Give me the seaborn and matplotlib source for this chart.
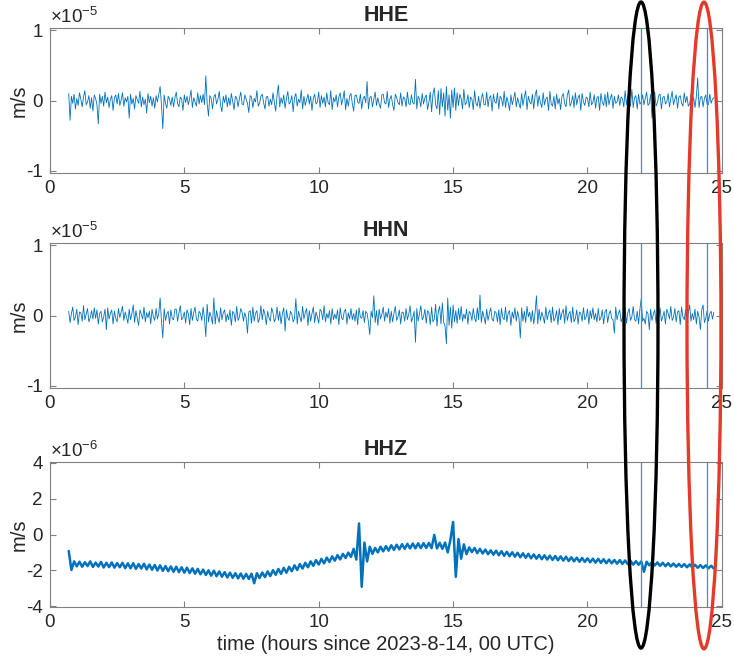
import numpy as np
import matplotlib
matplotlib.use('Agg')
import matplotlib.pyplot as plt
import seaborn as sns
from matplotlib.patches import Ellipse

# Horizontal channels, one sample every 0.05 h
# from 0.7 h to 24.7 h, in units of 1e-7 m/s.
hhe = [
    10, -28, 6, -4, 9, -12, 3, -7, 11, 2, -9, 5, 14, -6, -2, 7, -11, 4, -15, 8,
    3, -6, -33, 9, -4, 6, -8, 12, -3, 5, -10, 2, 7, -14, 4, 8, -5, 10, -7, 1,
    11, -8, 4, -2, 6, -25, 9, -5, 3, -12, 7, 1, -4, 13, -9, 5, -6, 2, -18, 10,
    -3, 6, -8, 4, -11, 7, -2, 9, 20, -6, -40, 8, -4, -11, 6, 2, -7, 5, -9, 4,
    12, -4, -9, 5, 2, -14, 8, -3, 6, -6, 3, 15, -10, 4, -2, -8, 11, -5, 7, -3,
    9, -6, 35, -4, -22, 7, 3, -12, 5, 9, -5, 2, 13, -7, -16, 6, -3, 8, -9, 4,
    -7, 10, -2, -13, 6, 4, -9, 3, 12, -5, -6, 8, 2, -4, -17, 7, 5, -10, 3, -2,
    14, -8, -4, 6, 9, -3, -12, 5, 6, -8, 2, -6, 11, -3, -15, 7, 22, -9, 4, -4,
    8, -11, 3, 13, -5, -2, 7, -16, 4, 10, -8, 2, -3, 15, -12, 6, -7, 1, 9, -5,
    6, -14, 3, 9, -5, -2, 12, -10, 7, -4, 5, -9, 11, -3, -6, 14, -13, 4, -2, 8,
    -9, 5, 11, -6, 2, 14, -13, 3, -8, 6, 10, -4, -15, 7, 8, -2, -4, 9, -12, 3,
    6, -3, 27, -12, 4, 6, -9, 2, 12, -7, 4, -5, -11, 8, 9, -3, -5, 13, -10, 2,
    7, -6, -14, 9, 4, -3, -6, 11, -8, 5, 3, -9, 12, -4, -6, 8, -3, -5, 30, -12,
    6, 2, -9, 10, -5, 4, 8, -13, -2, 12, -16, 9, 18, -6, -12, 14, -20, 17, -9, 11,
    -22, 20, -14, 8, -25, 15, -10, 18, -14, 11, -7, 9, 3, -12, 16, -6, -3, 8, -10, 5,
    2, -13, 14, -4, -8, 6, -11, 3, 10, -6, -6, 12, -9, 4, 7, -15, 9, -2, -4, 11,
    -12, 6, 3, -8, 13, -10, 5, -3, -14, 8, -6, 2, 12, -9, 4, -4, -11, 10, -7, 5,
    14, -13, 6, -2, -5, 9, -12, 7, 15, -8, 7, -3, -10, 11, -6, 2, 5, -14, 13, -5,
    -8, 6, -12, 9, -5, 3, -13, 6, 10, -4, -9, 8, 15, -8, -3, 7, -10, 11, -6, 4,
    8, -14, 10, -2, -7, 5, 3, -9, 12, -6, -3, 8, -11, 4, 6, -14, 10, -2, -7, 9,
    -9, 12, -6, 3, 9, -11, 6, -4, -2, 8, -7, 5, 3, -9, 14, -6, 7, -3, -8, 16,
    -10, 4, 7, -12, 9, -5, -2, 8, -6, 3, 12, -7, -4, 9, -25, 6, 12, -8, -3, 7,
    9, -12, 4, 6, -5, -2, 10, -9, 3, 13, -6, 2, 8, -11, 5, 7, -4, -8, 11, -3,
    6, -8, -5, 9, -3, 4, -10, 6, 32, -10, 4, 6, -9, 3, 8, -5, -6, 9, -4, 2,
    4,
]
hhn = [
    6, -10, 3, 12, -7, -2, 9, -13, 5, 4, -8, 14, -6, 2, 10, -9, -3, 7, -5, 11,
    -4, 8, -12, 3, 6, -9, -2, 9, -20, 11, -5, 3, 8, -12, 6, -4, -9, 10, -3, 5,
    13, -7, 5, -2, -11, 9, -6, 3, 15, -10, 7, -4, -14, 8, 2, -5, 12, -9, 4, -3,
    6, -12, 9, -2, -7, 10, -5, 3, 25, -8, -32, 10, -7, 2, 6, -12, 8, -4, -6, 9,
    9, -8, 4, 14, -6, -3, 5, -11, 8, 2, -13, 10, -7, 4, 12, -5, -8, 6, 3, -7,
    12, -4, -30, 16, -9, 5, -2, -12, 25, -12, 7, -3, -10, 11, -6, 4, 8, -9, 2, -6,
    8, -14, 6, 3, -9, 13, -7, -2, 10, 5, -8, 4, -3, -25, 5, 7, -11, 12, -8, 3,
    7, -10, -4, 14, -6, 9, 2, -13, 6, -3, -8, 11, 4, -9, -4, 12, -7, 6, -12, 3,
    11, -22, 8, -3, -7, 6, 2, -9, -4, 24, -12, 6, -2, -9, 13, -5, 4, 10, -14, 7,
    -8, 3, 12, -10, 5, -2, -11, 9, 6, -6, 14, -9, 3, -4, 7, -12, 10, -6, 2, -5,
    8, -13, 11, -3, -6, 6, 9, -12, 4, -5, 10, -6, 3, -8, 8, -13, 11, -2, -4, 7,
    -10, 6, 3, -9, -27, 6, -3, 28, -10, 7, -14, 9, -5, 2, 12, -8, 5, -3, 10, -11,
    6, -9, 3, 13, -7, -2, 8, -12, 5, 4, -8, 10, -6, 2, 14, -9, -3, 6, -38, 10,
    -8, 3, 14, -6, -2, 9, -11, 7, 4, -13, 12, -9, -5, 16, -15, 6, 13, -12, 18, -10,
    -15, -40, 25, -14, 12, -18, 15, -9, 7, -11, 10, -6, 13, -8, 2, -5, 9, -12, 6, 3,
    -7, 10, -4, -9, 11, -6, 29, -10, 6, -2, -12, 9, -7, 3, 11, -5, -8, 6, 4, -9,
    8, -13, 10, -3, -6, 12, -9, 4, 7, -14, 5, -4, 11, -8, 6, -3, -32, 11, -8, 6,
    -10, 13, -2, 5, -9, 7, -12, 4, 28, -12, 9, -7, 5, -2, -11, 12, -6, 3, 8, -10,
    12, -8, -3, 7, -13, 10, -6, 4, 9, -11, 14, -7, 2, 6, -10, 12, -9, -4, 8, -12,
    5, 3, -8, 11, -6, -2, 9, -12, 7, -4, 11, -6, 3, -9, 10, -7, -3, 8, -12, 5,
    9, -10, 2, 7, -4, -6, -25, 12, -6, 3, 8, -9, -3, 5, 11, -11, 4, 10, -7, -2,
    13, -6, -8, 6, -12, 9, 24, -8, -4, -12, 6, 3, -20, 9, -7, 2, 8, -11, 5, -3,
    11, -8, -2, 6, -12, 9, 3, -5, 13, -7, -3, 10, -9, 5, 7, -13, 12, -2, -6, 8,
    -10, 4, 15, -8, 3, -6, 9, -12, 6, -2, -20, 8, 15, -10, -4, 7, -8, 3, 6, -5,
    5,
]
# Vertical channel, one sample every 0.1 h, in units of 1e-8 m/s.
hhz = [
    -92, -198, -150, -178, -152, -180, -155, -176, -150, -181, -157, -179, -153, -184, -158, -182, -156, -185, -160, -183,
    -158, -188, -161, -189, -160, -192, -165, -190, -163, -195, -168, -197, -170, -201, -172, -203, -176, -205, -178, -208,
    -180, -210, -183, -213, -185, -215, -189, -219, -192, -222, -196, -226, -200, -230, -202, -233, -206, -236, -210, -240,
    -213, -242, -216, -245, -218, -247, -220, -248, -219, -272, -216, -243, -212, -238, -206, -232, -199, -225, -192, -220,
    -186, -213, -180, -205, -172, -198, -165, -190, -158, -183, -150, -175, -143, -168, -136, -161, -129, -153, -122, -146,
    -115, -139, -108, -131, -101, -125, -80, -140, 62, -292, -45, -150, -68, -108, -75, -100, -68, -94, -65, -90,
    -60, -86, -57, -83, -54, -80, -52, -78, -50, -77, -49, -76, -48, -75, -47, -76, -2, -78, -46, -80,
    -45, -100, -30, 70, -236, -25, -135, -55, -110, -72, -98, -75, -104, -80, -106, -84, -110, -88, -113, -90,
    -116, -93, -119, -96, -121, -99, -124, -102, -127, -105, -130, -108, -133, -111, -135, -114, -138, -116, -140, -118,
    -142, -120, -144, -122, -146, -124, -148, -127, -150, -129, -152, -131, -153, -133, -155, -135, -157, -136, -158, -138,
    -160, -140, -161, -142, -163, -143, -164, -145, -166, -147, -168, -149, -169, -150, -208, -152, -172, -154, -173, -156,
    -175, -158, -177, -160, -178, -162, -180, -164, -181, -165, -183, -167, -184, -169, -186, -171, -187, -172, -189, -174,
    -190,
]
hours_h = np.linspace(0.7, 24.7, len(hhe))
hours_z = np.linspace(0.7, 24.7, len(hhz))

# two glitches that run far off scale on every channel
glitch_hours = [22.0, 24.45]

channels = ['HHE', 'HHN', 'HHZ']
exponents = [-5, -5, -6]
limits = [1.03, 1.03, 4.05]
ticks = [[-1, 0, 1], [-1, 0, 1], [-4, -2, 0, 2, 4]]
traces = [np.array(hhe) / 100, np.array(hhn) / 100, np.array(hhz) / 100]
times = [hours_h, hours_h, hours_z]
widths = [0.6, 0.6, 1.8]

sns.set_theme(style='ticks')
plt.rcParams['font.family'] = ['Liberation Sans', 'DejaVu Sans']
plt.rcParams['mathtext.default'] = 'regular'
plt.rcParams['axes.unicode_minus'] = False
plt.rcParams['xtick.direction'] = 'in'
plt.rcParams['ytick.direction'] = 'in'

blue = '#0072BD'
gray = '#808080'
dark = '#262626'

fig = plt.figure(figsize=(7.34, 6.64), dpi=100)
tops = [0.9578, 0.634, 0.3042]
height = 0.2184

for i, name in enumerate(channels):
    ax = fig.add_axes([0.068, tops[i] - height, 0.9155, height])
    sns.lineplot(x=times[i], y=traces[i], ax=ax, color=blue, lw=widths[i],
                 estimator=None, sort=False)
    ax.vlines(glitch_hours, -10 * limits[i], 10 * limits[i], color='#3d8fd1',
              lw=0.9)

    ax.set_xlim(0, 25)
    ax.set_ylim(-limits[i], limits[i])
    ax.set_xticks([0, 5, 10, 15, 20, 25])
    ax.set_yticks(ticks[i])
    ax.tick_params(top=True, right=True, length=4, width=0.8, colors=gray,
                   labelcolor=dark, labelsize=13.5, pad=5)
    for s in ax.spines.values():
        s.set_color(gray)
        s.set_linewidth(0.8)
        s.set_visible(True)

    ax.set_title(name, fontsize=15.5, fontweight='bold', pad=5)
    ax.set_ylabel('m/s', fontsize=14.5, color=dark, labelpad=-2)
    ax.text(0.0, 1.01, '×10$^{%d}$' % exponents[i], transform=ax.transAxes,
            ha='left', va='bottom', fontsize=13.5, color=dark)

ax.set_xlabel('time (hours since 2023-8-14, 00 UTC)', fontsize=14.5,
              color=dark, labelpad=3)

# hand-drawn style rings around the two glitches
fig.add_artist(Ellipse((0.8733, 0.5105), 0.0463, 0.973, transform=fig.transFigure,
                       fill=False, ec='black', lw=2.4, zorder=10))
fig.add_artist(Ellipse((0.9591, 0.5098), 0.0463, 0.974, transform=fig.transFigure,
                       fill=False, ec='#e53a2a', lw=2.4, zorder=10))

plt.savefig('out.png', dpi=100)
